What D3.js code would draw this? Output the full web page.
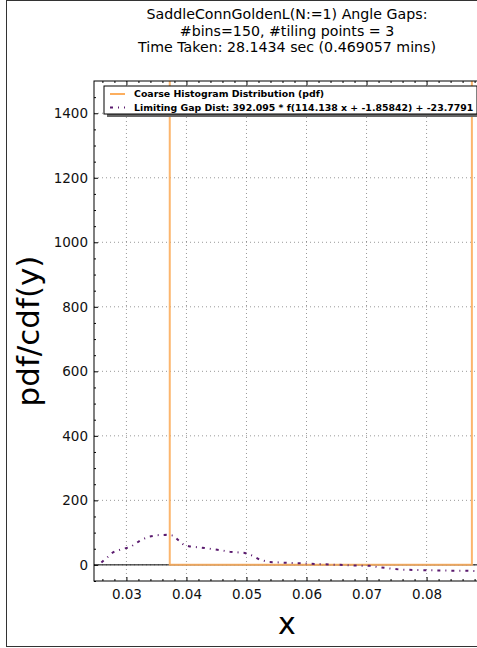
<!DOCTYPE html>
<html>
<head>
<meta charset="utf-8">
<script src="https://cdn.jsdelivr.net/npm/d3@7"></script>
<style>
html,body{margin:0;padding:0;background:#fff;}
svg{display:block;font-family:"DejaVu Sans",sans-serif;}
</style>
</head>
<body>
<svg id="chart" width="477" height="648"></svg>
<script>
// ---------- data ----------
const titleLines = ["SaddleConnGoldenL(N:=1) Angle Gaps:", "#bins=150, #tiling points = 3", "Time Taken: 28.1434 sec (0.469057 mins)"];
const xTicks = [0.03, 0.04, 0.05, 0.06, 0.07, 0.08];
const yTicks = [0, 200, 400, 600, 800, 1000, 1200, 1400];
const legendLabels = ["Coarse Histogram Distribution (pdf)", "Limiting Gap Dist: 392.095 * f(114.138 x + -1.85842) + -23.7791"];
// coarse histogram: bin edges and pdf values (outer bins far above the visible range)
const histEdges = [0.0200, 0.03722, 0.08755, 0.0950];
const histValues = [3000, 0, 3000];
// limiting gap distribution curve
const fitX = [0.02583,0.02777,0.02943,0.03055,0.0325,0.03388,0.035,0.03667,0.03777,0.03843,0.03955,0.04055,0.04222,0.04472,0.04722,0.04972,0.0511,0.05222,0.05361,0.055,0.05722,0.06,0.06277,0.06555,0.06833,0.07055,0.07193,0.07333,0.07583,0.0786,0.0811,0.08388,0.08638,0.08833];
const fitY = [7,39,50,54,78,88,92,93,91,80,62,57,54,48,41,37,28,16,9,8,6,4,2,0,-2,-3,-7,-10,-15,-16,-17,-18,-18,-19];

// ---------- layout ----------
const svg = d3.select("#chart");
const L = 94, T = 81, R = 480, B = 581;
const x = d3.scaleLinear().domain([0.0246, 0.0889]).range([L, R]);
const y = d3.scaleLinear().domain([-50, 1500]).range([B, T]);
const orange = "#fcae5e", purple = "#5a1a6e";

// figure frame
svg.append("rect").attr("x", 6.5).attr("y", 0.5).attr("width", 490).attr("height", 646)
  .attr("fill", "none").attr("stroke", "#333").attr("stroke-width", 1);

// title
svg.append("g").selectAll("text").data(titleLines).join("text")
  .attr("x", (L + R) / 2).attr("y", (d, i) => 19 + i * 16.5)
  .attr("text-anchor", "middle").attr("font-size", 14.2).attr("fill", "#000")
  .text(d => d);

// clip
svg.append("clipPath").attr("id", "clip").append("rect")
  .attr("x", L).attr("y", T).attr("width", R - L).attr("height", B - T);

// grid
const grid = svg.append("g").attr("stroke", "#000").attr("stroke-width", 0.5).attr("stroke-dasharray", "1,3").attr("opacity", 0.8);
grid.selectAll(".gx").data(xTicks).join("line")
  .attr("x1", d => x(d)).attr("x2", d => x(d)).attr("y1", T).attr("y2", B);
grid.selectAll(".gy").data(yTicks).join("line")
  .attr("y1", d => y(d)).attr("y2", d => y(d)).attr("x1", L).attr("x2", R);

const plot = svg.append("g").attr("clip-path", "url(#clip)");

// zero line
plot.append("line").attr("x1", L).attr("x2", R).attr("y1", y(0)).attr("y2", y(0))
  .attr("stroke", "#000").attr("stroke-width", 1);

// histogram step
const histPts = [];
histValues.forEach((v, i) => {
  histPts.push([histEdges[i], v]);
  histPts.push([histEdges[i + 1], v]);
});
plot.append("path").datum(histPts)
  .attr("d", d3.line().x(d => x(d[0])).y(d => y(d[1])))
  .attr("fill", "none").attr("stroke", orange).attr("stroke-width", 2).attr("opacity", 0.9);

// fit curve
plot.append("path").datum(fitX.map((v, i) => [v, fitY[i]]))
  .attr("d", d3.line().x(d => x(d[0])).y(d => y(d[1])))
  .attr("fill", "none").attr("stroke", purple).attr("stroke-width", 2)
  .attr("stroke-dasharray", "3,5,1,5");

// axes
const fmtX = d3.format(".2f");
const xMinor = d3.range(0.026, 0.0889, 0.002).filter(v => !xTicks.some(t => Math.abs(t - v) < 1e-6));
const yMinor = d3.range(-50, 1500, 50).filter(v => v % 200 !== 0);

const gBottom = svg.append("g").attr("transform", `translate(0,${B})`)
  .call(d3.axisBottom(x).tickValues(xTicks).tickFormat(fmtX).tickSizeInner(-4).tickSizeOuter(0).tickPadding(8));
const gBottomMinor = svg.append("g").attr("transform", `translate(0,${B})`)
  .call(d3.axisBottom(x).tickValues(xMinor).tickFormat("").tickSizeInner(-2).tickSizeOuter(0));
const gTop = svg.append("g").attr("transform", `translate(0,${T})`)
  .call(d3.axisTop(x).tickValues(xTicks).tickFormat("").tickSizeInner(-4).tickSizeOuter(0));
const gTopMinor = svg.append("g").attr("transform", `translate(0,${T})`)
  .call(d3.axisTop(x).tickValues(xMinor).tickFormat("").tickSizeInner(-2).tickSizeOuter(0));
const gLeft = svg.append("g").attr("transform", `translate(${L},0)`)
  .call(d3.axisLeft(y).tickValues(yTicks).tickFormat(d3.format("d")).tickSizeInner(-4).tickSizeOuter(0).tickPadding(6));
const gLeftMinor = svg.append("g").attr("transform", `translate(${L},0)`)
  .call(d3.axisLeft(y).tickValues(yMinor).tickFormat("").tickSizeInner(-2).tickSizeOuter(0));

[gBottom, gBottomMinor, gTop, gTopMinor, gLeft, gLeftMinor].forEach(g => {
  g.select(".domain").remove();
  g.selectAll(".tick line").attr("stroke", "#000").attr("stroke-width", 1);
  g.selectAll("text").attr("font-size", 13.5).attr("font-family", "DejaVu Sans").attr("fill", "#111");
});

// spines
svg.append("rect").attr("x", L).attr("y", T).attr("width", R - L).attr("height", B - T)
  .attr("fill", "none").attr("stroke", "#000").attr("stroke-width", 1);

// axis labels
svg.append("text").attr("x", (L + R) / 2).attr("y", 634).attr("text-anchor", "middle")
  .attr("font-size", 30).text("x");
svg.append("text").attr("transform", `translate(39,${(T + B) / 2}) rotate(-90)`)
  .attr("text-anchor", "middle").attr("font-size", 31).text("pdf/cdf(y)");

// legend
const lg = svg.append("g");
const lx = 104, ly = 86, lw = 373, lh = 28;
lg.append("rect").attr("x", lx + 3).attr("y", ly + 3).attr("width", lw).attr("height", lh).attr("fill", "#666");
lg.append("rect").attr("x", lx).attr("y", ly).attr("width", lw).attr("height", lh)
  .attr("fill", "#fff").attr("stroke", "#000").attr("stroke-width", 1);
const styles = [{c: orange, dash: null}, {c: purple, dash: "3,5,1,5"}];
legendLabels.forEach((t, i) => {
  const yy = ly + 8 + i * 13.5;
  lg.append("line").attr("x1", lx + 6).attr("x2", lx + 21).attr("y1", yy).attr("y2", yy)
    .attr("stroke", styles[i].c).attr("stroke-width", 2).attr("stroke-dasharray", styles[i].dash);
  lg.append("text").attr("x", lx + 30).attr("y", yy + 3.4).attr("font-size", 9.4)
    .attr("font-weight", "bold").text(t);
});
</script>
</body>
</html>
